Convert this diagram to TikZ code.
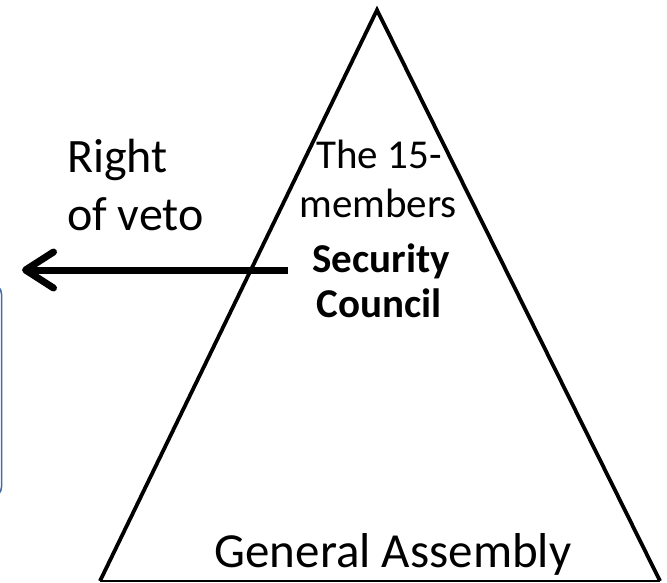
\documentclass[tikz,border=0pt]{standalone}
\usepackage{fontspec}
\setmainfont{Carlito}
\usetikzlibrary{arrows.meta}
\definecolor{boxblue}{RGB}{68,107,165}

\begin{document}
\begin{tikzpicture}[x=1pt, y=-1pt, every node/.style={inner sep=0pt}]
   \useasboundingbox (0,0) rectangle (667,583);
   % box cut off at the left edge
   \draw[color=boxblue, line width=1.5pt, rounded corners=10pt] (-120,284) rectangle (1.5,497);
   % the pyramid
   \coordinate (apex) at (377,10);
   \coordinate (baseL) at (100,581);
   \coordinate (baseR) at (660,581);
   \draw[line width=3.8pt, line join=miter] (baseL) -- (apex) -- (baseR);
   \draw[line width=1.5pt] (baseL) -- (baseR);
   \node[anchor=base west] (right) at (67,173) {\fontsize{48}{57}\selectfont Right};
   \node[anchor=base west] (ofveto) at (67,230) {\fontsize{48}{57}\selectfont of veto};
   \node[anchor=base] (the15) at (379,168) {\fontsize{41}{49}\selectfont The 15-};
   \node[anchor=base] (members) at (378,218) {\fontsize{41}{49}\selectfont members};
   \node[anchor=base] (security) at (381,272) {\fontsize{41}{49}\selectfont\bfseries Security};
   \node[anchor=base] (council) at (379,317) {\fontsize{41}{49}\selectfont\bfseries Council};
   \node[anchor=base] (assembly) at (393,567) {\fontsize{49}{58}\selectfont General Assembly};
   % veto arrow
   \coordinate (vetostart) at (288,270);
   \coordinate (vetoend) at (22,270);
   \draw[line width=7pt, -{Straight Barb[length=28pt, width=36pt, round]}] (vetostart) -- (vetoend);
\end{tikzpicture}
\end{document}
